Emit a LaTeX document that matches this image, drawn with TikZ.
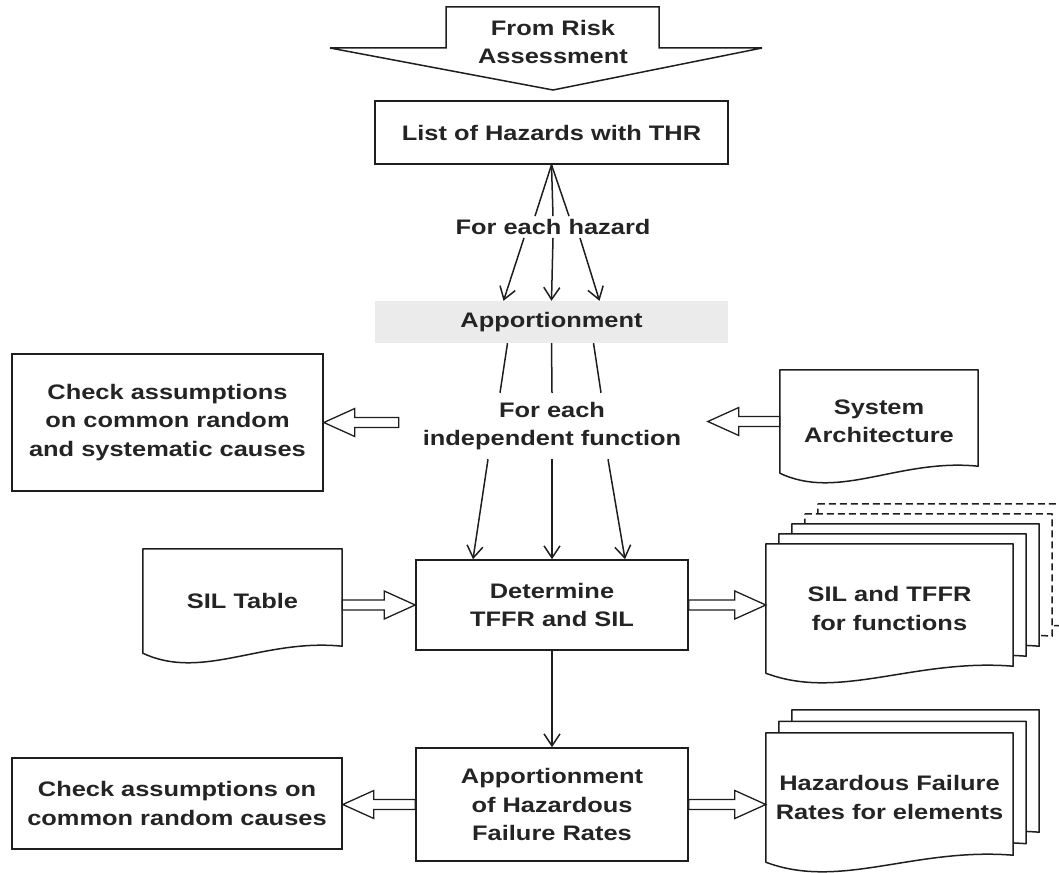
\documentclass[tikz,border=0pt]{standalone}
\usepackage[usenames, dvipsnames]{xcolor}
\usepackage{fontspec}
\setmainfont{Liberation Sans}[FakeStretch=1.21]
\usepackage{tikz}
\usetikzlibrary{arrows.meta, calc, backgrounds}
\definecolor{ink}{RGB}{30,30,30}
\definecolor{inktext}{RGB}{36,36,36}
\definecolor{shade}{RGB}{235,235,235}

% A sheet of paper with a wavy lower edge, drawn round a node (shifted by #3)
\newcommand{\docsheet}[3][]{%
	\draw [sheet, #1] ($(#2.north west)+#3$) -- ($(#2.north east)+#3$) -- ($(#2.south east)+#3+(0,-7)$)
		.. controls ($(#2.south west)!0.6!(#2.south east)+#3+(0,-15)$) and ($(#2.south west)!0.3!(#2.south east)+#3+(0,28)$) .. ($(#2.south west)+#3$) -- cycle;}
% A broad hollow arrow between two points at the same height
\newcommand{\fatarrow}[2]{%
	\draw [hollow] let \p1 = (#1), \p2 = (#2), \p3 = ($(#2)!31pt!(#1)$) in
		(\x1, \y1 + 5pt) -- (\x3, \y1 + 5pt) -- (\x3, \y1 + 14pt) -- (\x2, \y1) -- (\x3, \y1 - 14pt) -- (\x3, \y1 - 5pt) -- (\x1, \y1 - 5pt) -- cycle;}

\tikzset{
	every node/.style={font=\bfseries\fontsize{21}{28.5}\selectfont, text=inktext, align=center},
	box/.style={draw=ink, line width=1.6pt, inner sep=0pt},
	paper/.style={draw=none, inner sep=0pt},
	caption/.style={inner xsep=2pt, inner ysep=#1},
	caption/.default=4pt,
	sheet/.style={draw=ink, line width=1.5pt, fill=white, line join=round},
	hollow/.style={draw=ink, line width=1.3pt, fill=white, line join=miter},
	wire/.style={draw=ink, line width=1.5pt},
	link/.style={wire, -{Straight Barb[length=12pt, width=16pt]}},
}

\begin{document}
\begin{tikzpicture}[x=1pt, y=-1pt]
		\useasboundingbox (0, 0) rectangle (1059, 872);
		% The input coming from the risk assessment
		\draw [ink, line width=1.5pt, line join=miter] (446, 7) -- (659, 7) -- (659, 48) -- (762, 48) -- (553, 90) -- (330, 48) -- (446, 48) -- cycle;
		\node (risk) at (553, 42) {From Risk\\Assessment};
		% The hazard list and its apportionment
		\node [box, minimum width=353, minimum height=63] (lst) at (551.5, 132.5) {List of Hazards with THR};
		\node [caption=3pt] (haz) at (553, 227) {For each hazard};
		\node [fill=shade, minimum width=353, minimum height=42, inner sep=0pt] (app) at (551.5, 322) {Apportionment};
		\node [caption=9pt] (ind) at (552, 426) {For each\\independent function};
		% The side inputs and checks
		\node [box, minimum width=311, minimum height=137] (chk) at (167.5, 422.5) {Check assumptions\\on common random\\and systematic causes};
		\node [paper, minimum width=198, minimum height=103] (arch) at (879, 421.5) {System\\Architecture};
		\node [paper, minimum width=199, minimum height=104] (silt) at (242.5, 601) {SIL Table};
		% Determination of TFFR and SIL, and its result
		\node [box, minimum width=272, minimum height=90] (det) at (552, 605) {Determine\\TFFR and SIL};
		\node [paper, minimum width=247, minimum height=129] (sft) at (889.5, 608.5) {SIL and TFFR\\for functions};
		% Apportionment of hazardous failure rates
		\node [box, minimum width=272, minimum height=113] (hfrbox) at (552, 804.5) {Apportionment\\of Hazardous\\Failure Rates};
		\node [box, minimum width=330, minimum height=91] (chk2) at (177, 803.5) {Check assumptions on\\common random causes};
		\node [paper, minimum width=247, minimum height=129] (hfr) at (889.5, 797.5) {Hazardous Failure\\Rates for elements};
		% The sheets, stacked from back to front
		\begin{scope}[on background layer]
			\docsheet{arch}{(0, 0)}
			\docsheet{silt}{(0, 0)}
			\docsheet[dash pattern=on 7pt off 4pt]{sft}{(52, -40)}
			\docsheet[dash pattern=on 7pt off 4pt]{sft}{(39, -30)}
			\docsheet{sft}{(26, -20)}
			\docsheet{sft}{(13, -10)}
			\docsheet{sft}{(0, 0)}
			\docsheet{hfr}{(26, -23)}
			\docsheet{hfr}{(13, -11.5)}
			\docsheet{hfr}{(0, 0)}
		\end{scope}
		% Fan of hazards
		\draw [wire] (lst.south) -- ([xshift=-18]haz.north);
		\draw [wire] (lst.south) -- (haz.north);
		\draw [wire] (lst.south) -- ([xshift=16]haz.north);
		\draw [link] ([xshift=-29]haz.south) -- ([xshift=-48]app.north);
		\draw [link] (haz.south) -- (app.north);
		\draw [link] ([xshift=27]haz.south) -- ([xshift=48]app.north);
		% Fan of independent functions
		\draw [wire] ([xshift=-44]app.south) -- ([xshift=-52]ind.north);
		\draw [wire] (app.south) -- (ind.north);
		\draw [wire] ([xshift=42]app.south) -- ([xshift=49]ind.north);
		\draw [link] ([xshift=-64]ind.south) -- ([xshift=-79]det.north);
		\draw [link] (ind.south) -- (det.north);
		\draw [link] ([xshift=56]ind.south) -- ([xshift=73]det.north);
		\draw [link] (det.south) -- (hfrbox.north);
		% Hollow arrows
		\coordinate (lend) at ([xshift=75]chk.east);
		\coordinate (rend) at ([xshift=-72]arch.west);
		\coordinate (siltout) at (silt.east |- det.west);
		\coordinate (sftin) at (sft.west |- det.east);
		\coordinate (chk2in) at (chk2.east |- hfrbox.west);
		\coordinate (hfrin) at (hfr.west |- hfrbox.east);
		\fatarrow{lend}{chk.east}
		\fatarrow{arch.west}{rend}
		\fatarrow{siltout}{det.west}
		\fatarrow{det.east}{sftin}
		\fatarrow{hfrbox.west}{chk2in}
		\fatarrow{hfrbox.east}{hfrin}
	\end{tikzpicture}
\end{document}
